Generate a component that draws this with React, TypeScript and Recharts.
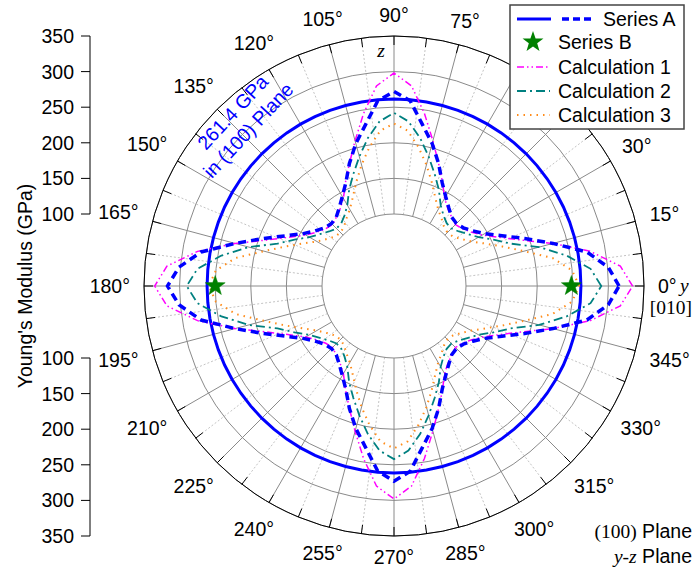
import {
  RadarChart,
  Radar,
  PolarGrid,
  PolarAngleAxis,
  PolarRadiusAxis,
  LineChart,
  Line,
  XAxis,
  YAxis,
} from "recharts";

const SANS = "'Liberation Sans', Arial, sans-serif";
const SERIF = "'Liberation Serif', 'Times New Roman', serif";
const FONT = 19.5;

// sample directions in degrees (0 = y, 90 = z)
const angles = [
  0, 5, 10, 15, 20, 25, 30, 35, 40, 45, 50, 55, 60, 65, 70, 75, 80, 85, 90,
  95, 100, 105, 110, 115, 120, 125, 130, 135, 140, 145, 150, 155, 160, 165, 170, 175, 180,
  185, 190, 195, 200, 205, 210, 215, 220, 225, 230, 235, 240, 245, 250, 255, 260, 265, 270,
  275, 280, 285, 290, 295, 300, 305, 310, 315, 320, 325, 330, 335, 340, 345, 350, 355,
];

// Young's modulus (GPa)
const seriesA = [
  315, 301, 274, 230, 194, 166, 146, 134, 126, 123, 125, 133, 144, 159, 182, 206, 229, 260, 272,
  260, 229, 206, 182, 159, 144, 133, 125, 123, 126, 134, 146, 166, 194, 230, 274, 302, 317,
  302, 274, 230, 194, 166, 146, 134, 126, 123, 125, 133, 144, 159, 182, 206, 229, 260, 273,
  260, 229, 206, 182, 159, 144, 133, 125, 123, 126, 134, 146, 166, 194, 230, 274, 301,
];
const calc1 = [
  334, 318, 279, 230, 188, 161, 142, 131, 124, 121, 125, 131, 141, 160, 182, 210, 245, 281, 298,
  281, 245, 210, 182, 160, 141, 131, 125, 121, 124, 131, 142, 161, 188, 230, 279, 319, 335,
  319, 279, 230, 188, 161, 142, 131, 124, 121, 125, 131, 141, 160, 182, 210, 245, 281, 298,
  281, 245, 210, 182, 160, 141, 131, 125, 121, 124, 131, 142, 161, 188, 230, 279, 318,
];
const calc2 = [
  290, 276, 245, 210, 173, 153, 136, 126, 118, 113, 114, 120, 130, 148, 166, 187, 210, 231, 242,
  231, 210, 187, 166, 148, 130, 120, 114, 113, 118, 126, 136, 153, 173, 210, 245, 276, 290,
  276, 245, 210, 173, 153, 136, 126, 118, 113, 114, 120, 130, 148, 166, 187, 210, 231, 242,
  231, 210, 187, 166, 148, 130, 120, 114, 113, 118, 126, 136, 153, 173, 210, 245, 276,
];
const calc3 = [
  259, 250, 225, 188, 161, 140, 124, 114, 107, 105, 108, 115, 123, 136, 154, 175, 197, 218, 227,
  218, 197, 175, 154, 136, 123, 115, 108, 105, 107, 114, 124, 140, 161, 188, 225, 250, 259,
  250, 225, 188, 161, 140, 124, 114, 107, 105, 108, 115, 123, 136, 154, 175, 197, 218, 227,
  218, 197, 175, 154, 136, 123, 115, 108, 105, 107, 114, 124, 140, 161, 188, 225, 250,
];
const seriesACircle = 261.4;
const seriesBAngles = [0, 180];
const seriesBValues = [248, 250];

const radiusTicks = [100, 150, 200, 250, 300, 350];
const labelAngles = [0, 15, 30, 45, 60, 75, 90, 105, 120, 135, 150, 165, 180, 195, 210, 225, 240, 255, 270, 285, 300, 315, 330, 345];
// these two labels sit under the legend box
const hiddenLabels = [45, 60];
const minorAngles = [7.5, 22.5, 37.5, 52.5, 67.5, 82.5, 97.5, 112.5, 127.5, 142.5, 157.5, 172.5, 187.5, 202.5, 217.5, 232.5, 247.5, 262.5, 277.5, 292.5, 307.5, 322.5, 337.5, 352.5];
const tickMarkAngles = [...labelAngles, ...minorAngles].sort((p, q) => p - q);

const legendNames = ["Series A", "Series B", "Calculation 1", "Calculation 2", "Calculation 3"];

const rows = angles.map((angle, i) => {
  const k = seriesBAngles.indexOf(angle);
  return {
    angle,
    ring: seriesACircle,
    a: seriesA[i],
    c1: calc1[i],
    c2: calc2[i],
    c3: calc3[i],
    b: k >= 0 ? seriesBValues[k] : null,
  };
});

const BLUE = "#0000ff";
const MAGENTA = "#ff00ff";
const TEAL = "#008080";
const ORANGE = "#ff8c1a";
const GREEN = "#008000";

const TICK_LEN = 9;

function AngleTick(props: any) {
  const { x, y, payload } = props;
  const deg = Number(payload.value);
  if (deg % 15 !== 0 || hiddenLabels.includes(deg)) return <g />;
  const rad = (payload.coordinate * Math.PI) / 180;
  const label = `${deg}°`;
  const halfW = (((label.length - 1) * 0.556 + 0.4) * FONT) / 2;
  const halfH = 7;
  const push = TICK_LEN + 14 + Math.abs(Math.cos(rad)) * halfW + Math.abs(Math.sin(rad)) * halfH;
  return (
    <text
      x={x + Math.cos(rad) * push}
      y={y - Math.sin(rad) * push}
      textAnchor="middle"
      dominantBaseline="central"
      fontSize={FONT}
      fontFamily={SANS}
      fill="#000"
    >
      {label}
    </text>
  );
}

function starPoints(cx: number, cy: number, outer: number) {
  const pts: string[] = [];
  for (let k = 0; k < 10; k++) {
    const r = k % 2 === 0 ? outer : outer * 0.4;
    const t = -Math.PI / 2 + (k * Math.PI) / 5;
    pts.push(`${cx + r * Math.cos(t)},${cy + r * Math.sin(t)}`);
  }
  return pts.join(" ");
}

function StarDot(props: any) {
  const { cx, cy } = props;
  const row = props.payload?.payload ?? props.payload;
  if (row?.b == null || !Number.isFinite(cx) || !Number.isFinite(cy)) return <g key={props.key} />;
  return <polygon key={props.key} points={starPoints(cx, cy, 10.5)} fill={GREEN} stroke={GREEN} strokeWidth={0.5} />;
}

function RadiusScale({ height, top, bottom, reversed }: { height: number; top: number; bottom: number; reversed: boolean }) {
  return (
    <div style={{ position: "absolute", left: 0, top: 0 }}>
      <LineChart width={100} height={height} data={radiusTicks.map((v) => ({ v }))} margin={{ top, bottom, left: 0, right: 10 }}>
        <XAxis dataKey="v" hide />
        <YAxis
          type="number"
          domain={[100, 350]}
          ticks={radiusTicks}
          interval={0}
          reversed={reversed}
          width={90}
          tickSize={TICK_LEN}
          tickMargin={7}
          stroke="#000"
          tick={{ fill: "#000", fontSize: FONT, fontFamily: SANS }}
        />
        <Line dataKey="v" stroke="none" dot={false} isAnimationActive={false} />
      </LineChart>
    </div>
  );
}

function LegendBox() {
  const rowY = [15, 38, 63, 87, 111];
  return (
    <svg width={176} height={126} style={{ position: "absolute", left: 509, top: 4 }}>
      <rect x={1} y={1} width={174} height={124} fill="#fff" stroke="#444" strokeWidth={1.5} />
      <line x1={8} x2={42} y1={rowY[0]} y2={rowY[0]} stroke={BLUE} strokeWidth={3} />
      <line x1={53} x2={86} y1={rowY[0]} y2={rowY[0]} stroke={BLUE} strokeWidth={3.5} strokeDasharray="7 4" />
      <polygon points={starPoints(24, rowY[1], 11)} fill={GREEN} />
      <line x1={8} x2={41} y1={rowY[2]} y2={rowY[2]} stroke={MAGENTA} strokeWidth={1.5} strokeDasharray="7 3 1.5 3 1.5 3" />
      <line x1={8} x2={41} y1={rowY[3]} y2={rowY[3]} stroke={TEAL} strokeWidth={1.8} strokeDasharray="9 4 2 4" />
      <line x1={8} x2={41} y1={rowY[4]} y2={rowY[4]} stroke={ORANGE} strokeWidth={2} strokeDasharray="1.5 5" />
      {legendNames.map((name, i) => (
        <text key={name} x={i === 0 ? 94 : 49} y={rowY[i]} dominantBaseline="central" fontSize={FONT} fontFamily={SANS} fill="#000">
          {name}
        </text>
      ))}
    </svg>
  );
}

export default function App() {
  return (
    <div style={{ position: "absolute", left: 0, top: 0, width: 695, height: 574, background: "#fff", overflow: "hidden" }}>
      <RadiusScale height={250} top={36} bottom={36} reversed={false} />
      <RadiusScale height={574} top={358} bottom={38} reversed={true} />
      <div style={{ position: "absolute", left: 0, top: 0 }}>
        <RadarChart
          width={695}
          height={574}
          cx={394}
          cy={286}
          innerRadius={72}
          outerRadius={250}
          startAngle={0}
          endAngle={360}
          data={rows}
          margin={{ top: 0, right: 0, bottom: 0, left: 0 }}
        >
          <PolarGrid gridType="circle" polarAngles={minorAngles} polarRadius={[]} stroke="#c4c4c4" strokeDasharray="2 2" />
          <PolarGrid gridType="circle" polarAngles={labelAngles} stroke="#8a8a8a" />
          <PolarRadiusAxis type="number" domain={[100, 350]} ticks={radiusTicks} tick={false} axisLine={false} />
          <PolarAngleAxis
            type="number"
            dataKey="angle"
            domain={[0, 360]}
            ticks={tickMarkAngles}
            axisLineType="circle"
            orientation="inner"
            tickSize={TICK_LEN}
            stroke="#000"
            tickLine={{ stroke: "#000" }}
            tick={AngleTick}
          />
          <Radar dataKey="ring" stroke={BLUE} strokeWidth={3} fill="none" dot={false} legendType="none" isAnimationActive={false} />
          <Radar dataKey="c3" stroke={ORANGE} strokeWidth={2} strokeDasharray="1.5 5" fill="none" dot={false} legendType="none" isAnimationActive={false} />
          <Radar dataKey="c2" stroke={TEAL} strokeWidth={1.8} strokeDasharray="9 4 2 4" fill="none" dot={false} legendType="none" isAnimationActive={false} />
          <Radar dataKey="c1" stroke={MAGENTA} strokeWidth={1.5} strokeDasharray="7 3 1.5 3 1.5 3" fill="none" dot={false} legendType="none" isAnimationActive={false} />
          <Radar dataKey="a" stroke={BLUE} strokeWidth={3.5} strokeDasharray="8 5" fill="none" dot={false} legendType="none" isAnimationActive={false} />
          <Radar dataKey="b" stroke="none" fill="none" dot={StarDot} legendType="none" isAnimationActive={false} />
        </RadarChart>
      </div>
      <svg width={695} height={574} style={{ position: "absolute", left: 0, top: 0, pointerEvents: "none" }}>
        <text transform="translate(31.5,286) rotate(-90)" textAnchor="middle" fontSize={FONT} fontFamily={SANS} fill="#000">
          Young's Modulus (GPa)
        </text>
        <text x={381} y={57} textAnchor="middle" fontSize={FONT} fontFamily={SERIF} fontStyle="italic" fill="#000">z</text>
        <text x={680} y={292} fontSize={FONT} fontFamily={SERIF} fontStyle="italic" fill="#000">y</text>
        <text x={692} y={314} textAnchor="end" fontSize={FONT} fontFamily={SERIF} fill="#000">[010]</text>
        <text x={692} y={538} textAnchor="end" fontSize={FONT} fill="#000">
          <tspan fontFamily={SERIF}>(100)</tspan>
          <tspan fontFamily={SANS}> Plane</tspan>
        </text>
        <text x={692} y={563} textAnchor="end" fontSize={FONT} fill="#000">
          <tspan fontFamily={SERIF} fontStyle="italic">y-z</tspan>
          <tspan fontFamily={SANS}> Plane</tspan>
        </text>
        <text transform="translate(237.7,116.8) rotate(-47)" textAnchor="middle" fontSize={FONT} fontFamily={SANS} fill={BLUE}>
          261.4 GPa
        </text>
        <text transform="translate(253.2,134.9) rotate(-47)" textAnchor="middle" fontSize={FONT} fontFamily={SANS} fill={BLUE}>
          in (100) Plane
        </text>
      </svg>
      <LegendBox />
    </div>
  );
}
